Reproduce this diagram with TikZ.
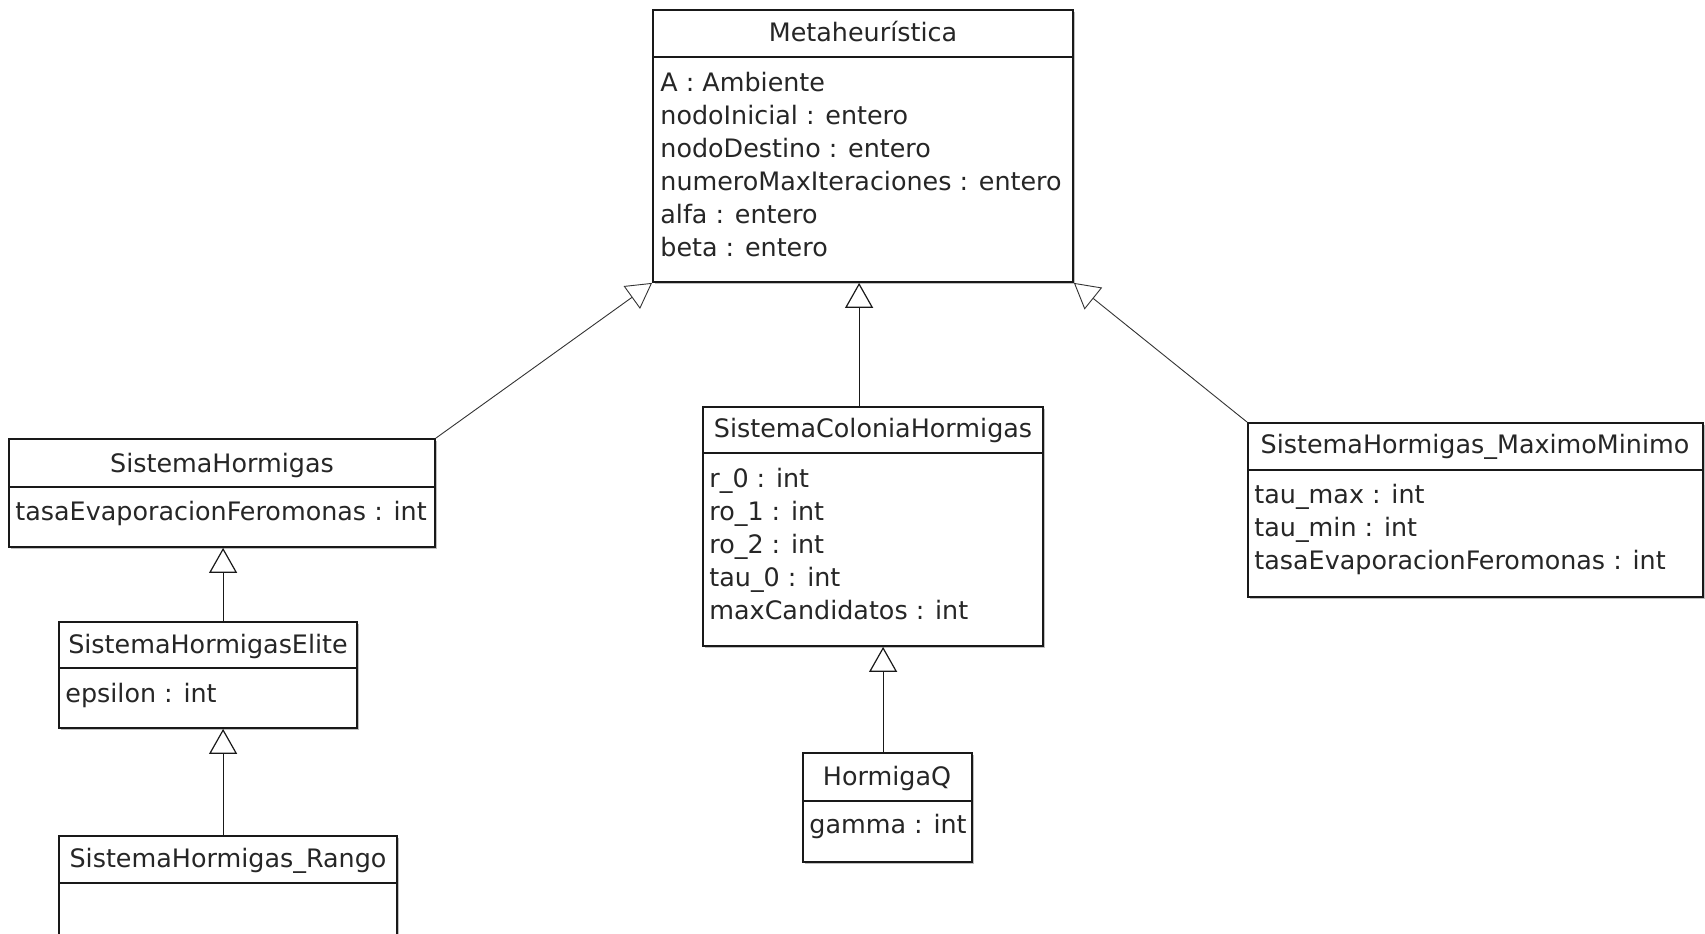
\documentclass[tikz,border=0pt]{standalone}
\usepackage{fontspec}
\setmainfont{DejaVu Sans}
\usetikzlibrary{arrows.meta,fit,calc,shadows}
\begin{document}
\begin{tikzpicture}[x=0.5pt,y=-0.5pt,
  classbox/.style={draw=black!90, line width=0.9pt, fill=white, inner sep=0pt,
    drop shadow={shadow xshift=1.2pt, shadow yshift=-1.2pt, opacity=0.25, fill=black}},
  sepline/.style={draw=black!90, line width=0.9pt},
  txt/.style={font=\fontsize{12.7}{15}\selectfont, inner sep=0pt, text=black!85},
  ttl/.style={txt, anchor=base},
  attr/.style={txt, anchor=base west},
  gen/.style={-{Triangle[open,length=12.5pt,width=14pt]}, line width=0.6pt, draw=black!90},
  dgen/.style={-{Triangle[open,length=12.5pt,width=14pt]}, line width=0.45pt, draw=black!80}]
\useasboundingbox (0,0) rectangle (1705,933);

% Metaheuristica
\node[classbox, fit={(653,10) (1073,282)}] (meta) {};
\draw[sepline] (653,57) -- (1073,57);
\node[ttl] (metat) at (863,41) {Metaheurística};
\node[attr] (m1) at (660,91) {A : Ambiente};
\node[attr] (m2) at (660,124) {nodoInicial : entero};
\node[attr] (m3) at (660,157) {nodoDestino : entero};
\node[attr] (m4) at (660,190) {numeroMaxIteraciones : entero};
\node[attr] (m5) at (660,223) {alfa : entero};
\node[attr] (m6) at (660,256) {beta : entero};

% SistemaHormigas
\node[classbox, fit={(9,439) (435,547)}] (sh) {};
\draw[sepline] (9,487) -- (435,487);
\node[ttl] (sht) at (222,472) {SistemaHormigas};
\node[attr] (sh1) at (15,520) {tasaEvaporacionFeromonas : int};

% SistemaHormigasElite
\node[classbox, fit={(59,622) (357,728)}] (she) {};
\draw[sepline] (59,668) -- (357,668);
\node[ttl] (shet) at (208,653) {SistemaHormigasElite};
\node[attr] (she1) at (65,702) {epsilon : int};

% SistemaHormigas_Rango
\node[classbox, fit={(59,836) (397,960)}] (shr) {};
\draw[sepline] (59,883) -- (397,883);
\node[ttl] (shrt) at (228,867) {SistemaHormigas\_Rango};

% SistemaColoniaHormigas
\node[classbox, fit={(703,407) (1043,646)}] (sch) {};
\draw[sepline] (703,453) -- (1043,453);
\node[ttl] (scht) at (873,437) {SistemaColoniaHormigas};
\node[attr] (sc1) at (709,487) {r\_0 : int};
\node[attr] (sc2) at (709,520) {ro\_1 : int};
\node[attr] (sc3) at (709,553) {ro\_2 : int};
\node[attr] (sc4) at (709,586) {tau\_0 : int};
\node[attr] (sc5) at (709,619) {maxCandidatos : int};

% HormigaQ
\node[classbox, fit={(803,753) (972,862)}] (hq) {};
\draw[sepline] (803,801) -- (972,801);
\node[ttl] (hqt) at (887,785) {HormigaQ};
\node[attr] (hq1) at (809,833) {gamma : int};

% SistemaHormigas_MaximoMinimo
\node[classbox, fit={(1248,423) (1703,597)}] (shmm) {};
\draw[sepline] (1248,470) -- (1703,470);
\node[ttl] (shmmt) at (1475,453) {SistemaHormigas\_MaximoMinimo};
\node[attr] (mm1) at (1254,503) {tau\_max : int};
\node[attr] (mm2) at (1254,536) {tau\_min : int};
\node[attr] (mm3) at (1254,569) {tasaEvaporacionFeromonas : int};

% generalizations
\draw[dgen] (sh.north east) -- (meta.south west);
\draw[dgen] (shmm.north west) -- (meta.south east);
\draw[gen] ($(sch.north west)+(157,0)$) -- ($(meta.south west)+(207,0)$);
\draw[gen] ($(she.north west)+(165,0)$) -- ($(sh.south west)+(215,0)$);
\draw[gen] ($(shr.north west)+(165,0)$) -- ($(she.south west)+(165,0)$);
\draw[gen] ($(hq.north west)+(81,0)$) -- ($(sch.south west)+(181,0)$);
\end{tikzpicture}
\end{document}
